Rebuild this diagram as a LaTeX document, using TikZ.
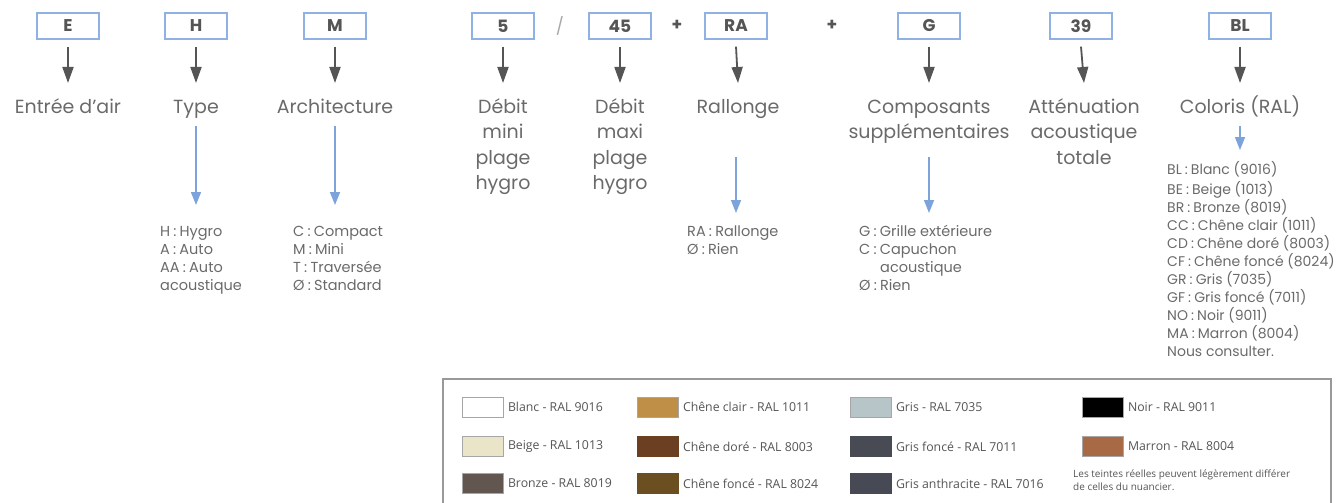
\documentclass[tikz,border=0pt]{standalone}
\usepackage{fontspec}
\setmainfont{Poppins}
\newfontfamily\legfont{Open Sans}
\usetikzlibrary{arrows.meta}
\definecolor{boxblue}{HTML}{8FB1E3}
\definecolor{arrblue}{HTML}{7DA3DB}
\definecolor{dgray}{HTML}{555555}
\definecolor{tgray}{HTML}{6A6A6A}
\definecolor{lgray}{HTML}{A8A8A8}
\definecolor{cBlanc}{HTML}{FFFFFF}
\definecolor{cBeige}{HTML}{EAE5C9}
\definecolor{cBronze}{HTML}{625650}
\definecolor{cCC}{HTML}{BF8F48}
\definecolor{cCD}{HTML}{6A3F22}
\definecolor{cCF}{HTML}{6C4F21}
\definecolor{cGR}{HTML}{B8C5C8}
\definecolor{cGF}{HTML}{484A54}
\definecolor{cGA}{HTML}{474A55}
\definecolor{cNO}{HTML}{000000}
\definecolor{cMA}{HTML}{A86A45}
\newcommand{\csep}{\hspace{0.22em}:\hspace{0.22em}}
\tikzset{
  codebox/.style={draw=boxblue, line width=1.3pt, minimum width=62pt, minimum height=26pt,
    inner sep=0pt, font=\fontsize{17}{20}\selectfont\bfseries, text=dgray},
  darr/.style={draw=dgray, line width=1.8pt, -{Triangle[width=11pt,length=16pt]}},
  barr/.style={draw=arrblue, line width=1.5pt, -{Triangle[width=10pt,length=13pt]}},
  lbl/.style={font=\fontsize{19}{25.5}\selectfont, text=tgray, align=center, anchor=north, inner sep=0pt},
  lst/.style={font=\fontsize{14.5}{18}\selectfont, text=tgray, align=left, anchor=north west, inner sep=0pt},
  sym/.style={font=\fontsize{17}{20}\selectfont, inner sep=0pt},
  swatch/.style={draw=black!35, line width=0.8pt, minimum width=41pt, minimum height=20pt, inner sep=0pt, anchor=west},
  swlbl/.style={font=\legfont\fontsize{12.3}{14}\selectfont, text=dgray, anchor=west, inner sep=0pt},
}
\begin{document}
\begin{tikzpicture}[x=1pt,y=-1pt]
\useasboundingbox (0,0) rectangle (1338,503);
% code boxes
\node[codebox] (E)  at (68,26) {E};
\node[codebox] (H)  at (196,26) {H};
\node[codebox] (M)  at (335,26) {M};
\node[codebox] (D5) at (503,26) {5};
\node[codebox] (D45) at (620,26) {45};
\node[codebox] (RA) at (736,26) {RA};
\node[codebox] (G)  at (929,26) {G};
\node[codebox] (A39) at (1081,26) {39};
\node[codebox] (BL) at (1240,26) {BL};
\node[sym, text=lgray] (sl) at (560,26) {/};
\node[sym, text=dgray, font=\fontsize{17}{20}\selectfont\bfseries] (p1) at (677,25) {+};
\node[sym, text=dgray, font=\fontsize{17}{20}\selectfont\bfseries] (p2) at (832,25) {+};
% labels
\node[lbl] (lE) at (68,95) {\strut Entrée d’air};
\node[lbl] (lH) at (196,95) {\strut Type};
\node[lbl] (lM) at (335,95) {\strut Architecture};
\node[lbl] (l5) at (503,95) {\strut Débit\\mini\\plage\\hygro};
\node[lbl] (l45) at (620,95) {\strut Débit\\maxi\\plage\\hygro};
\node[lbl] (lRA) at (738,95) {\strut Rallonge};
\node[lbl] (lG) at (929,95) {\strut Composants\\supplémentaires};
\node[lbl] (l39) at (1084,95) {\strut Atténuation\\acoustique\\totale};
\node[lbl] (lBL) at (1240,95) {\strut Coloris (RAL)};
% dark arrows
\foreach \b/\l in {E/lE,H/lH,M/lM,D5/l5,D45/l45,RA/lRA,G/lG,A39/l39,BL/lBL}
  \draw[darr] ([yshift=-7pt]\b.south) -- ([yshift=12pt]\l.north);
% lists
\node[lst] (tH) at (160,223.4) {\strut H\csep Hygro\\A\csep Auto\\AA\csep Auto\\acoustique};
\node[lst] (tM) at (293,223.4) {\strut C\csep Compact\\M\csep Mini\\T\csep Traversée\\Ø\csep Standard};
\node[lst] (tRA) at (687,223.4) {\strut RA\csep Rallonge\\Ø\csep Rien};
\node[lst] (tG) at (859,223.4) {\strut G\csep Grille extérieure\\C\csep Capuchon\\\hspace*{21pt}acoustique\\Ø\csep Rien};
\node[lst, font=\fontsize{14}{18}\selectfont] (tBL) at (1167,161.5) {\strut BL\csep Blanc (9016)\\BE\csep Beige (1013)\\BR\csep Bronze (8019)\\CC\csep Chêne clair (1011)\\CD\csep Chêne doré (8003)\\CF\csep Chêne foncé (8024)\\GR\csep Gris (7035)\\GF\csep Gris foncé (7011)\\NO\csep Noir (9011)\\MA\csep Marron (8004)\\Nous consulter.};
% blue arrows
\coordinate (y1) at (0,126);
\coordinate (y2) at (0,205);
\coordinate (y3) at (0,157);
\coordinate (y4) at (0,213);
\coordinate (y5) at (0,150);
\draw[barr] (lH.south |- y1) -- (lH.south |- y2);
\draw[barr] (lM.south |- y1) -- (lM.south |- y2);
\draw[barr] (RA.south |- y3) -- (RA.south |- y4);
\draw[barr] (G.south |- y3) -- (G.south |- y4);
\draw[barr] (BL.south |- y1) -- (BL.south |- y5);
% legend frame
\draw[draw=black!40, line width=1.3pt] (443,510) -- (443,379) -- (1331,379) -- (1331,510);
% swatches
\node[swatch, fill=cBlanc] (s1) at (462,407) {};
\node[swatch, fill=cBeige] (s2) at (462,446.5) {};
\node[swatch, fill=cBronze] (s3) at (462,483.5) {};
\node[swatch, fill=cCC] (s4) at (637,407) {};
\node[swatch, fill=cCD, draw=cCD] (s5) at (637,446.5) {};
\node[swatch, fill=cCF, draw=cCF] (s6) at (637,483.5) {};
\node[swatch, fill=cGR] (s7) at (850,407) {};
\node[swatch, fill=cGF, draw=cGF] (s8) at (850,446.5) {};
\node[swatch, fill=cGA, draw=cGA] (s9) at (850,483.5) {};
\node[swatch, fill=cNO] (s10) at (1082,407) {};
\node[swatch, fill=cMA] (s11) at (1082,446.5) {};
\node[swlbl] at ([xshift=4pt]s1.east) {Blanc - RAL 9016};
\node[swlbl] at ([xshift=4pt]s2.east) {Beige - RAL 1013};
\node[swlbl] at ([xshift=4pt]s3.east) {Bronze - RAL 8019};
\node[swlbl] at ([xshift=4pt]s4.east) {Chêne clair - RAL 1011};
\node[swlbl] at ([xshift=4pt]s5.east) {Chêne doré - RAL 8003};
\node[swlbl] at ([xshift=4pt]s6.east) {Chêne foncé - RAL 8024};
\node[swlbl] at ([xshift=4pt]s7.east) {Gris - RAL 7035};
\node[swlbl] at ([xshift=4pt]s8.east) {Gris foncé - RAL 7011};
\node[swlbl] at ([xshift=4pt]s9.east) {Gris anthracite - RAL 7016};
\node[swlbl] at ([xshift=4pt]s10.east) {Noir - RAL 9011};
\node[swlbl] at ([xshift=4pt]s11.east) {Marron - RAL 8004};
\node[font=\legfont\fontsize{10}{13}\selectfont, text=dgray, align=left, anchor=north west, inner sep=0pt] (note) at (1073,470) {Les teintes réelles peuvent légèrement différer\\de celles du nuancier.};
\end{tikzpicture}
\end{document}
